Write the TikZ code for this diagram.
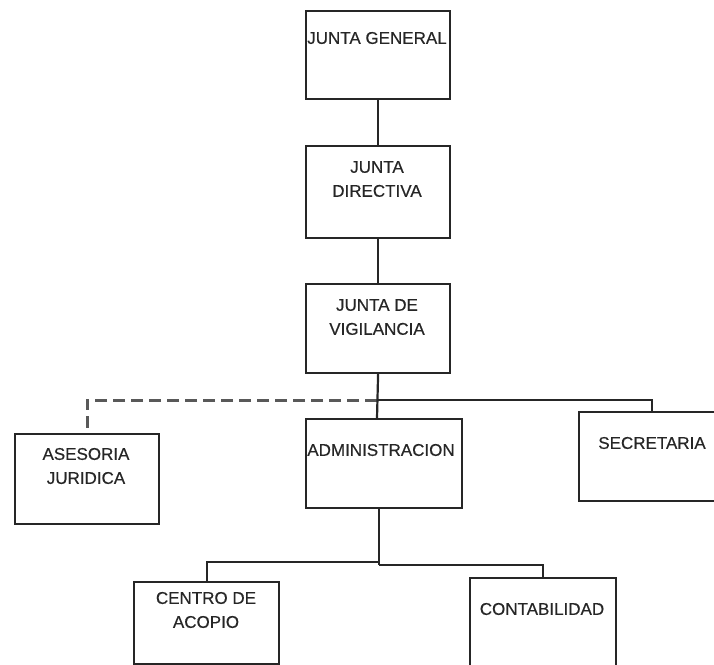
\documentclass[tikz,border=0pt]{standalone}
\usepackage{fontspec}
\setmainfont{Liberation Sans}
\newfontfamily\lblfont[FakeBold=0.45]{Liberation Sans}
\begin{document}
\begin{tikzpicture}[x=1pt,y=-1pt,
  box/.style={draw=black!85, line width=2.2pt, inner sep=0pt, anchor=north west},
  lbl/.style={font=\lblfont\fontsize{17}{24}\selectfont, align=center, inner sep=0pt, text=black!85},
  con/.style={draw=black!85, line width=2.2pt},
  dsh/.style={draw=black!65, line width=3pt, dash pattern=on 12pt off 6pt}]
\useasboundingbox (0,0) rectangle (714,664);
% boxes
\node[box, minimum width=144pt, minimum height=88pt] (jg) at (305,10) {};
\node[box, minimum width=144pt, minimum height=92pt] (jd) at (305,145) {};
\node[box, minimum width=144pt, minimum height=89pt] (jv) at (305,283) {};
\node[box, minimum width=144pt, minimum height=90pt] (as) at (14,433) {};
\node[box, minimum width=156pt, minimum height=89pt] (ad) at (305,418) {};
\node[box, minimum width=146pt, minimum height=89pt] (se) at (578,411) {};
\node[box, minimum width=145pt, minimum height=82pt] (ce) at (133,581) {};
\node[box, minimum width=146pt, minimum height=95pt] (co) at (469,577) {};
% labels
\node[lbl] (jgt) at (377,38) {JUNTA GENERAL};
\node[lbl] (jdt) at (377,179) {JUNTA\\DIRECTIVA};
\node[lbl] (jvt) at (377,317) {JUNTA DE\\VIGILANCIA};
\node[lbl] (ast) at (86,466) {ASESORIA\\JURIDICA};
\node[lbl] (adt) at (381,450) {ADMINISTRACION};
\node[lbl] (set) at (652,443) {SECRETARIA};
\node[lbl] (cet) at (206,610) {CENTRO DE\\ACOPIO};
\node[lbl] (cot) at (542,609) {CONTABILIDAD};
% connectors
\coordinate (t1) at (377,400);
\coordinate (adBot) at (379,507);
\coordinate (b1) at (379,562);
\coordinate (b2) at (379,565);
\draw[con] (jg.south) -- (jd.north);
\draw[con] (jd.south) -- (jv.north);
\draw[dsh] (t1) -| (as.north);
\draw[con] (t1) -| (se.north);
\draw[con] (jv.south) -- (t1 |- ad.north);
\draw[con] (adBot) -- (b2);
\draw[con] (b1) -| (ce.north);
\draw[con] (b2) -| (co.north);
\end{tikzpicture}
\end{document}
